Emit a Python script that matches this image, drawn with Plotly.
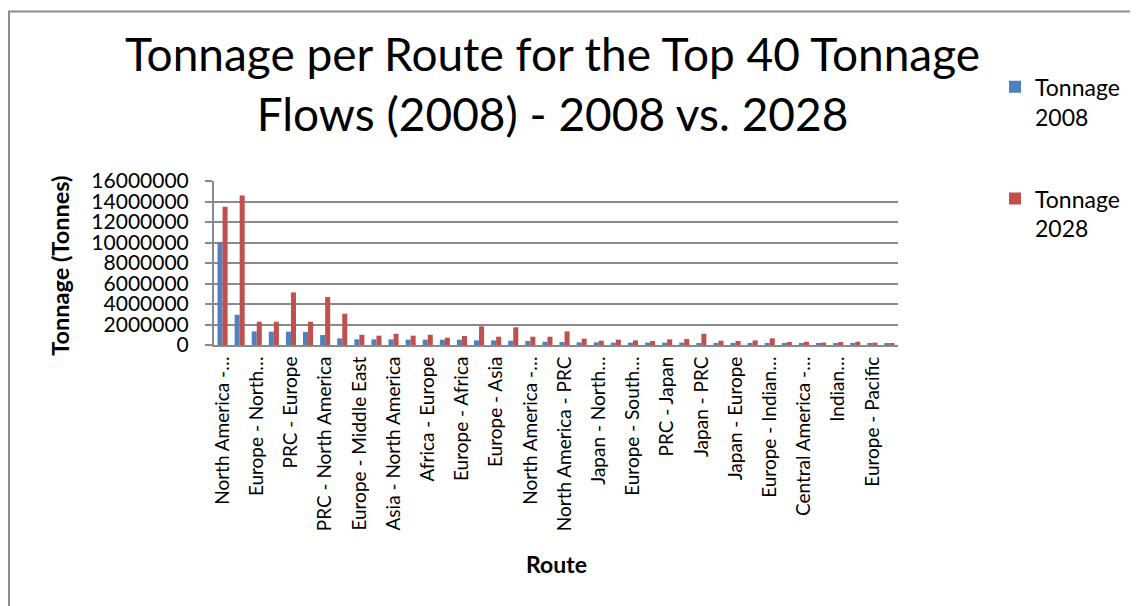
import plotly.graph_objects as go

# ---- data ----
routes = [
    "North America - A", "Route 2", "Europe - North A", "Route 4",
    "PRC - Europe", "Route 6", "PRC - North America", "Route 8",
    "Europe - Middle East", "Route 10", "Asia - North America", "Route 12",
    "Africa - Europe", "Route 14", "Europe - Africa", "Route 16",
    "Europe - Asia", "Route 18", "North America - B", "Route 20",
    "North America - PRC", "Route 22", "Japan - North A", "Route 24",
    "Europe - South A", "Route 26", "PRC - Japan", "Route 28",
    "Japan - PRC", "Route 30", "Japan - Europe", "Route 32",
    "Europe - Indian A", "Route 34", "Central America - A", "Route 36",
    "Indian A", "Route 38", "Europe - Pacific", "Route 40",
]
tick_labels = [
    "North America -…", "Europe - North…", "PRC - Europe", "PRC - North America",
    "Europe - Middle East", "Asia - North America", "Africa - Europe", "Europe - Africa",
    "Europe - Asia", "North America -…", "North America - PRC", "Japan - North…",
    "Europe - South…", "PRC - Japan", "Japan - PRC", "Japan - Europe",
    "Europe - Indian…", "Central America -…", "Indian…", "Europe - Pacific",
]
tonnage_2008 = [10000000, 2950000, 1330000, 1300000, 1300000, 1270000, 970000, 650000,
                550000, 550000, 550000, 520000, 520000, 520000, 520000, 450000,
                450000, 420000, 390000, 320000, 290000, 260000, 260000, 230000,
                230000, 230000, 230000, 230000, 200000, 200000, 200000, 200000,
                160000, 160000, 160000, 130000, 130000, 130000, 100000, 100000]
tonnage_2028 = [13500000, 14580000, 2270000, 2270000, 5130000, 2270000, 4680000, 3050000,
                1000000, 910000, 1100000, 910000, 1000000, 710000, 880000, 1820000,
                810000, 1720000, 810000, 810000, 1330000, 620000, 420000, 520000,
                450000, 390000, 550000, 580000, 1100000, 420000, 390000, 450000,
                650000, 290000, 320000, 230000, 290000, 320000, 230000, 160000]
y_ticks = [0, 2000000, 4000000, 6000000, 8000000, 10000000, 12000000, 14000000, 16000000]

OFF = 8  # page body margin
W, H = 1138 - OFF, 606 - OFF
L, R, T, B = 214 - OFF, 898 - OFF, 181 - OFF, 345.5 - OFF
FONT = "Lato"
GRID = "#8a8a8a"


def px_x(p):
    return (p - OFF - L) / (R - L)


def px_y(p):
    return (B - (p - OFF)) / (B - T)


fig = go.Figure()
fig.add_trace(go.Bar(x=routes, y=tonnage_2008, name="Tonnage<br>2008",
                     marker=dict(color="#4F81BD", line=dict(width=0)), legendgroup="a"))
fig.add_trace(go.Bar(x=routes, y=tonnage_2028, name="Tonnage<br>2028",
                     marker=dict(color="#C0504D", line=dict(width=0)), legendgroup="b"))

fig.update_layout(
    width=W, height=H,
    margin=dict(l=L, r=W - R, t=T, b=H - B, autoexpand=False),
    paper_bgcolor="white", plot_bgcolor="white",
    barmode="group", bargap=0.41, bargroupgap=0,
    font=dict(family=FONT, color="black"),
    showlegend=True,
    legend=dict(x=px_x(995), y=px_y(65), xanchor="left", yanchor="top",
                font=dict(family=FONT, size=23), valign="top",
                traceorder="grouped", tracegroupgap=49,
                bgcolor="rgba(0,0,0,0)", itemsizing="constant"),
    xaxis=dict(type="category", tickmode="array", tickvals=routes[0::2], ticktext=tick_labels,
               tickangle=-90, tickfont=dict(family=FONT, size=19), ticks="",
               showline=True, linecolor=GRID, linewidth=2, showgrid=False,
               automargin=False, ticklabelstandoff=2),
    yaxis=dict(range=[0, 16000000], tickmode="array", tickvals=y_ticks,
               ticktext=[str(v) for v in y_ticks],
               tickfont=dict(family=FONT, size=21), ticks="outside", ticklen=7,
               tickcolor=GRID, tickwidth=2,
               showline=True, linecolor=GRID, linewidth=2,
               showgrid=True, gridcolor=GRID, gridwidth=2, zeroline=False,
               automargin=False, ticklabelstandoff=12),
)

# title
fig.add_annotation(text="Tonnage per Route for the Top 40 Tonnage<br>Flows (2008) - 2008 vs. 2028",
                   xref="paper", yref="paper", x=px_x(552), y=px_y(83),
                   xanchor="center", yanchor="middle", showarrow=False,
                   font=dict(family=FONT, size=46, color="black"))
# axis titles
fig.add_annotation(text="<b>Tonnage (Tonnes)</b>", xref="paper", yref="paper",
                   x=px_x(60), y=px_y(266), textangle=-90, showarrow=False,
                   xanchor="center", yanchor="middle",
                   font=dict(family=FONT, size=23.5, color="black"))
fig.add_annotation(text="<b>Route</b>", xref="paper", yref="paper",
                   x=px_x(556), y=px_y(565), showarrow=False,
                   xanchor="center", yanchor="middle",
                   font=dict(family=FONT, size=23, color="black"))
# chart border
fig.add_shape(type="rect", xref="paper", yref="paper",
              x0=px_x(9), x1=px_x(1160), y0=px_y(630), y1=px_y(11),
              line=dict(color="#8c8c8c", width=2), fillcolor="rgba(0,0,0,0)", layer="below")

fig.write_html("out.html")
